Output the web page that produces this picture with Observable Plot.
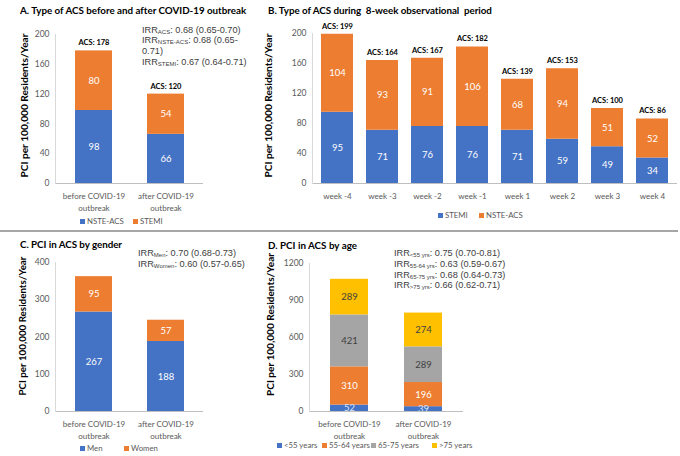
<!DOCTYPE html>
<html><head><meta charset="utf-8">
<script src="https://cdn.jsdelivr.net/npm/d3@7"></script>
<script src="https://cdn.jsdelivr.net/npm/@observablehq/plot@0.6"></script>
<style>
body{margin:0;background:#fff;}
#root{position:relative;width:680px;height:456px;overflow:hidden;font-family:Lato,sans-serif;}
.abs{position:absolute;white-space:nowrap;}
.title{font-weight:bold;font-size:9.8px;line-height:11px;color:#000;}
.irr{font-family:"Liberation Sans",Arial,sans-serif;font-size:9.2px;line-height:10.6px;height:10.6px;color:#404040;}
.irr sub{font-size:6px;vertical-align:-1px;line-height:0;}
.leg{font-size:7.8px;line-height:10px;color:#595959;}
.leg i{display:inline-block;width:5px;height:5px;margin-right:2px;vertical-align:0px;}
.sep{position:absolute;left:0;top:230px;width:678px;height:1.5px;background:#a6a6a6;}
svg{position:absolute;}
</style></head><body><div id="root"></div>
<script>
const C = {blue:"#4472C4", orange:"#ED7D31", gray:"#A5A5A5", yellow:"#FFC000"};
const yLabel = "PCI per 100,000 Residents/Year";

// Panel A
const aCats = ["before COVID-19\noutbreak", "after COVID-19\noutbreak"];
const aNSTE = [98, 66];
const aSTEMI = [80, 54];
const aTotals = [178, 120];
const aTicks = [0, 40, 80, 120, 160, 200];

// Panel B
const bCats = ["week -4","week -3","week -2","week -1","week 1","week 2","week 3","week 4"];
const bSTEMI = [95, 71, 76, 76, 71, 59, 49, 34];
const bNSTE = [104, 93, 91, 106, 68, 94, 51, 52];
const bTotals = [199, 164, 167, 182, 139, 153, 100, 86];
const bTicks = [0, 40, 80, 120, 160, 200];

// Panel C
const cCats = ["before COVID-19\noutbreak", "after COVID-19\noutbreak"];
const cMen = [267, 188];
const cWomen = [95, 57];
const cTicks = [0, 100, 200, 300, 400];

// Panel D
const dCats = ["before COVID-19\noutbreak", "after COVID-19\noutbreak"];
const dUnder55 = [52, 39];
const d55to64 = [310, 196];
const d65to75 = [421, 289];
const dOver75 = [289, 274];
const dTicks = [0, 300, 600, 900, 1200];

const root = document.getElementById("root");

function panel(o) {
  const rows = [];
  o.series.forEach(s => o.cats.forEach((c, i) => rows.push({cat: c, value: s.values[i], color: s.color, tc: s.tc})));
  const marks = [
    Plot.barY(rows, {x: "cat", y: "value", fill: "color"}),
    Plot.text(rows, Plot.stackY({x: "cat", y: "value", text: d => String(d.value), fill: "tc", fontSize: 9.5})),
    Plot.ruleY([0], {stroke: "#bfbfbf", strokeWidth: 1}),
    Plot.frame({anchor: "left", stroke: "#d9d9d9"}),
    Plot.axisY({ticks: o.ticks, tickSize: 0, tickPadding: 6, fontSize: 8.5, fill: "#595959", label: null, tickFormat: d => String(d)}),
    Plot.text(o.cats, {x: d => d, text: d => d, frameAnchor: "bottom", lineAnchor: "top", dy: 8, lineHeight: 1.4, fontSize: 8, fill: "#595959"}),
    Plot.text([yLabel], {frameAnchor: "left", textAnchor: "middle", rotate: -90, dx: o.ylDx, dy: o.ylDy, text: d => d, fontWeight: "bold", fontSize: 9, fill: "#000"})
  ];
  if (o.totals) {
    marks.push(Plot.text(o.cats.map((c, i) => ({cat: c, t: o.totals[i]})),
      {x: "cat", y: "t", text: d => "ACS: " + d.t, dy: -8, fontWeight: "bold", fontSize: 7.5, fill: "#000"}));
  }
  const svg = Plot.plot({
    width: o.width, height: o.height,
    marginLeft: o.ml, marginRight: o.mr, marginTop: o.mt, marginBottom: o.mb,
    x: {domain: o.cats, paddingInner: o.pi, paddingOuter: o.po, axis: null},
    y: {domain: o.domain},
    color: {type: "identity"},
    style: {fontFamily: "Lato, sans-serif", background: "transparent", overflow: "visible"},
    marks
  });
  svg.style.left = o.left + "px";
  svg.style.top = o.top + "px";
  root.appendChild(svg);
  svg.querySelectorAll("text").forEach(t => {
    if (t.textContent === yLabel) {
      t.setAttribute("textLength", o.ylLen);
      t.setAttribute("lengthAdjust", "spacingAndGlyphs");
    }
  });
}

panel({cats: aCats, series: [{values: aNSTE, color: C.blue, tc: "#fff"}, {values: aSTEMI, color: C.orange, tc: "#fff"}],
  totals: aTotals, ticks: aTicks, domain: [0, 200], width: 255, height: 230, ml: 55, mr: 52, mt: 34, mb: 47,
  pi: 0.49, po: 0.27, left: 0, top: 0, ylDx: -30, ylDy: -3.5, ylLen: 144});
panel({cats: bCats, series: [{values: bSTEMI, color: C.blue, tc: "#fff"}, {values: bNSTE, color: C.orange, tc: "#fff"}],
  totals: bTotals, ticks: bTicks, domain: [0, 200], width: 425, height: 230, ml: 57, mr: 3, mt: 33, mb: 47,
  pi: 0.28, po: 0.12, left: 255, top: 0, ylDx: -43, ylDy: -3, ylLen: 144});
panel({cats: cCats, series: [{values: cMen, color: C.blue, tc: "#fff"}, {values: cWomen, color: C.orange, tc: "#fff"}],
  ticks: cTicks, domain: [0, 400], width: 255, height: 224, ml: 55, mr: 52, mt: 30, mb: 45,
  pi: 0.49, po: 0.27, left: 0, top: 232, ylDx: -32, ylDy: -11, ylLen: 139});
panel({cats: dCats, series: [{values: dUnder55, color: C.blue, tc: "#dce6f7"}, {values: d55to64, color: C.orange, tc: "#fff"},
  {values: d65to75, color: C.gray, tc: "#404040"}, {values: dOver75, color: C.yellow, tc: "#404040"}],
  ticks: dTicks, domain: [0, 1200], width: 425, height: 224, ml: 54, mr: 217, mt: 31, mb: 45,
  pi: 0.48, po: 0.27, left: 255, top: 232, ylDx: -38, ylDy: -13, ylLen: 143});

function addDiv(cls, html, left, top) {
  const d = document.createElement("div");
  d.className = "abs " + cls;
  d.innerHTML = html;
  d.style.left = left + "px";
  d.style.top = top + "px";
  root.appendChild(d);
  return d;
}
function fit(el, target) {
  const w = el.getBoundingClientRect().width;
  const n = el.textContent.length;
  if (w > 0 && n > 1) el.style.letterSpacing = ((target - w) / n) + "px";
}
// separator
const sep = document.createElement("div"); sep.className = "sep"; root.appendChild(sep);

// titles
fit(addDiv("title", "A. Type of ACS before and after COVID-19 outbreak", 20, 4.5), 226);
fit(addDiv("title", "B. Type of ACS during&nbsp; 8-week observational&nbsp; period", 268, 4.5), 224);
fit(addDiv("title", "C. PCI in ACS by gender", 20, 239), 102);
fit(addDiv("title", "D. PCI in ACS by age", 268, 240), 89);

// IRR annotations
const aIRR = ["IRR<sub>ACS</sub>: 0.68 (0.65-0.70)", "IRR<sub>NSTE-ACS</sub>: 0.68 (0.65-", "0.71)", "IRR<sub>STEMI</sub>: 0.67 (0.64-0.71)"];
const cIRR = ["IRR<sub>Men</sub>: 0.70 (0.68-0.73)", "IRR<sub>Women</sub>: 0.60 (0.57-0.65)"];
const dIRR = ["IRR<sub>&lt;55 yrs</sub>: 0.75 (0.70-0.81)", "IRR<sub>55-64 yrs</sub>: 0.63 (0.59-0.67)",
  "IRR<sub>65-75 yrs</sub>: 0.68 (0.64-0.73)", "IRR<sub>&gt;75 yrs</sub>: 0.66 (0.62-0.71)"];
aIRR.forEach((t, i) => addDiv("irr", t, 142, 24.7 + i * 10.6));
cIRR.forEach((t, i) => addDiv("irr", t, 138, 247.7 + i * 10.9));
dIRR.forEach((t, i) => addDiv("irr", t, 394, 247.7 + i * 10.9));

// legends
function legend(items, top) {
  items.forEach(([name, color, left]) => addDiv("leg", `<i style="background:${color}"></i>${name}`, left, top));
}
legend([["NSTE-ACS", C.blue, 80], ["STEMI", C.orange, 133]], 216);
legend([["STEMI", C.blue, 438], ["NSTE-ACS", C.orange, 479]], 210);
legend([["Men", C.blue, 80], ["Women", C.orange, 124]], 443);
legend([["&lt;55 years", C.blue, 277], ["55-64 years", C.orange, 322], ["65-75 years", C.gray, 371], ["&gt;75 years", C.yellow, 432]], 440);
</script></body></html>
